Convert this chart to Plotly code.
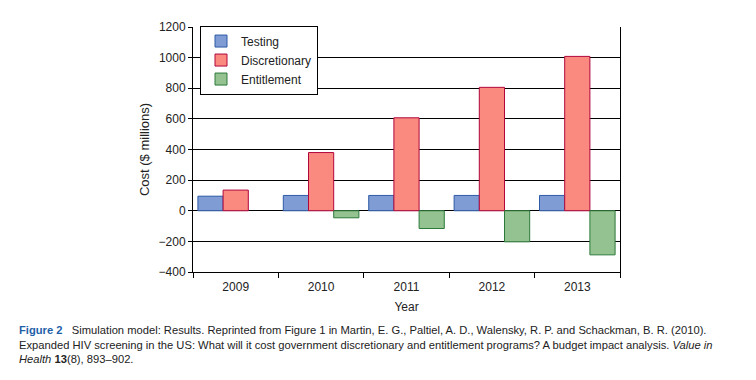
import plotly.graph_objects as go

years = ["2009", "2010", "2011", "2012", "2013"]
testing = [95, 100, 100, 100, 100]
discretionary = [135, 380, 607, 806, 1008]
entitlement = [None, -46, -116, -203, -288]

y_ticks = [-400, -200, 0, 200, 400, 600, 800, 1000, 1200]

font_main = "Liberation Sans, Arial, sans-serif"

# page has an 8px body margin; figure sized to fit the remaining window
W, H = 748, 372
L, T = 185, 12
PW, PH = 427, 252

fig = go.Figure()
fig.add_trace(go.Bar(name="Testing", x=years, y=testing,
                     marker=dict(color="#7f9cd4", line=dict(color="#2f5ba6", width=1))))
fig.add_trace(go.Bar(name="Discretionary", x=years, y=discretionary,
                     marker=dict(color="#fa8a80", line=dict(color="#b1063c", width=1))))
fig.add_trace(go.Bar(name="Entitlement", x=years, y=entitlement,
                     marker=dict(color="#94c291", line=dict(color="#2c7a3a", width=1))))

fig.update_layout(
    width=W, height=H,
    margin=dict(l=L, r=W - L - PW, t=T, b=H - T - PH),
    paper_bgcolor="white", plot_bgcolor="white",
    barmode="group", bargap=0.115, bargroupgap=0,
    font=dict(family=font_main, size=12, color="#222"),
    legend=dict(x=7 / PW, y=1 - 34 / PH, xanchor="left", yanchor="middle",
                bordercolor="black", borderwidth=1, bgcolor="white",
                font=dict(size=12, color="#222"), itemwidth=30,
                tracegroupgap=0),
    showlegend=True,
)
fig.update_xaxes(
    type="category", showline=True, linecolor="black", linewidth=1,
    ticks="outside", tickson="boundaries", ticklen=5, tickcolor="black",
    showgrid=False, tickfont=dict(size=12), ticklabelstandoff=4,
    title=dict(text="Year", font=dict(size=12), standoff=9),
)
fig.update_yaxes(
    range=[-400, 1200], tickvals=y_ticks, showline=True, mirror=True,
    linecolor="black", linewidth=1, ticks="outside", ticklen=4, tickcolor="black",
    showgrid=True, gridcolor="black", gridwidth=1,
    zeroline=True, zerolinecolor="black", zerolinewidth=1,
    tickfont=dict(size=12),
    title=dict(text="Cost ($ millions)", font=dict(size=13), standoff=6),
)

caption = (
    "<span style='color:#1f5fa8'><b>Figure 2</b></span>   Simulation model: Results. Reprinted from Figure 1 in Martin, E. G., Paltiel, A. D., Walensky, R. P. and Schackman, B. R. (2010).<br>"
    "Expanded HIV screening in the US: What will it cost government discretionary and entitlement programs? A budget impact analysis. <i>Value in</i><br>"
    "<i>Health</i> <b>13</b>(8), 893–902."
)
fig.add_annotation(
    text=caption, xref="paper", yref="paper",
    x=(9 - L) / PW, y=-(315 - T - PH) / PH,
    xanchor="left", yanchor="top", align="left", showarrow=False,
    font=dict(family=font_main, size=11.2, color="#222"),
)

fig.write_html("out.html")
